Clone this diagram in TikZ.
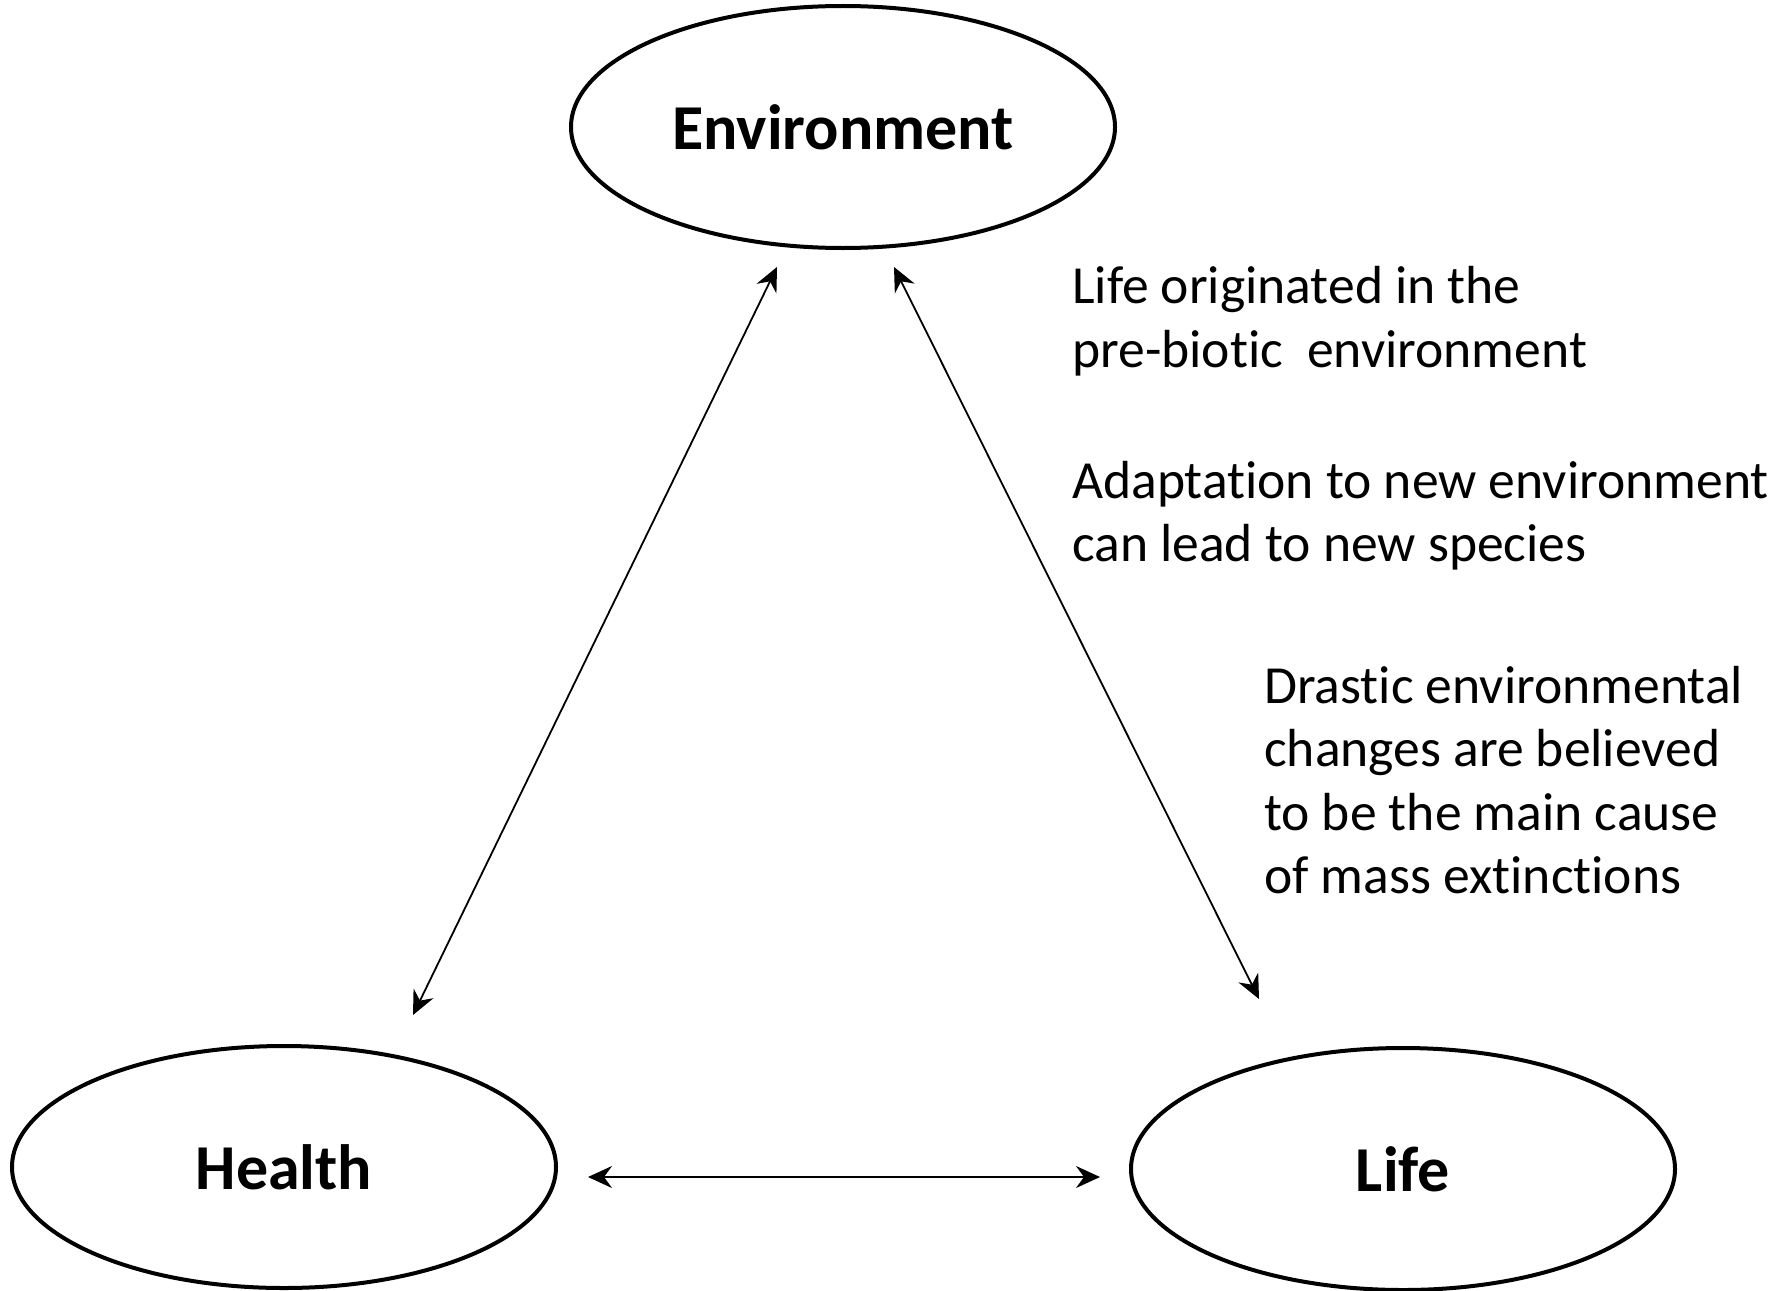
\documentclass[tikz,border=0pt]{standalone}
\usepackage{fontspec}
\setmainfont[Ligatures={NoCommon}]{Carlito}
\usetikzlibrary{shapes.geometric,arrows.meta}
\begin{document}
\begin{tikzpicture}[x=1pt,y=-1pt,
  oval/.style={draw,line width=4pt,ellipse,minimum width=544pt,minimum height=242pt,inner sep=0pt,font=\fontsize{64}{76}\selectfont\bfseries},
  link/.style={line width=1.8pt,{Stealth[length=24pt,width=22pt,inset=8pt]}-{Stealth[length=24pt,width=22pt,inset=8pt]}},
  note/.style={anchor=base west,inner sep=0pt,font=\fontsize{53.6}{64}\selectfont}]
\useasboundingbox (0,0) rectangle (1779,1290);
\node[oval] (env) at (843,127) {Environment};
\node[oval] (health) at (284,1167) {Health};
\node[oval] (life) at (1403,1169) {Life};
\coordinate (a1) at (777,267);
\coordinate (a2) at (413,1015);
\coordinate (b1) at (894,267);
\coordinate (b2) at (1259,999);
\coordinate (c1) at (588,1177);
\coordinate (c2) at (1100,1177);
\draw[link] (a1) -- (a2);
\draw[link] (b1) -- (b2);
\draw[link] (c1) -- (c2);
\node[note] (t1) at (1072,303) {Life originated in the};
\node[note] (t2) at (1072,367) {pre-biotic\ \ environment};
\node[note] (t3) at (1072,498) {Adaptation to new environment};
\node[note] (t4) at (1072,561) {can lead to new species};
\node[note] (t5) at (1264,703) {Drastic environmental};
\node[note] (t6) at (1264,766) {changes are believed};
\node[note] (t7) at (1264,830) {to be the main cause};
\node[note] (t8) at (1264,893) {of mass extinctions};
\end{tikzpicture}
\end{document}
